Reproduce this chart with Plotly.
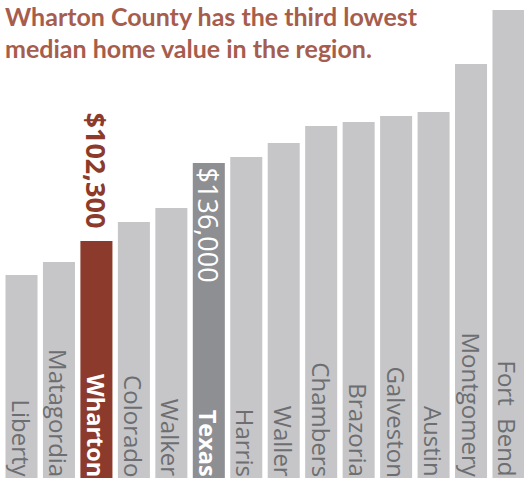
import plotly.graph_objects as go

categories = ["Liberty", "Matagordia", "Wharton", "Colorado", "Walker", "Texas", "Harris",
              "Waller", "Chambers", "Brazoria", "Galveston", "Austin", "Montgomery", "Fort  Bend"]
values = [87600, 93200, 102300, 110500, 116500, 136000, 138500,
          144600, 151900, 153600, 156200, 158000, 178700, 202000]
highlight = {"Wharton": "#8b3a2b", "Texas": "#8e8f92"}
base_color = "#c6c6c8"
title_lines = ["Wharton County has the third lowest", "median home value in the region."]

colors = [highlight.get(c, base_color) for c in categories]
xs = list(range(len(categories)))

fig = go.Figure(go.Bar(x=xs, y=values, marker_color=colors, marker_line_width=0,
                       hoverinfo="skip"))

LABEL_FONT = "Open Sans"
anns = []
for i, (c, v) in enumerate(zip(categories, values)):
    hl = c in highlight
    anns.append(dict(
        x=i, y=0, xref="x", yref="y", text=("<b>%s</b>" % c) if hl else c,
        textangle=90, showarrow=False, xanchor="center", yanchor="bottom", yshift=-1,
        font=dict(family=LABEL_FONT, size=24 if not hl else 23.5,
                  color="white" if hl else "#6d6e71"),
    ))

# value labels
wi = categories.index("Wharton")
anns.append(dict(x=wi, y=values[wi], xref="x", yref="y", text="<b>$102,300</b>",
                 textangle=90, showarrow=False, xanchor="center", yanchor="bottom", yshift=10,
                 font=dict(family=LABEL_FONT, size=27, color="#8b3a2b")))
ti = categories.index("Texas")
anns.append(dict(x=ti, y=values[ti], xref="x", yref="y", text="$136,000",
                 textangle=90, showarrow=False, xanchor="center", yanchor="top", yshift=-3,
                 font=dict(family=LABEL_FONT, size=27, color="white")))

for k, line in enumerate(title_lines):
    anns.append(dict(x=0, y=1, xref="paper", yref="paper", text="<b>%s</b>" % line,
                     showarrow=False, xanchor="left", yanchor="top", xshift=3, yshift=1 - 32 * k,
                     font=dict(family="Lato", size=25, color="#a65d4d")))

fig.update_layout(
    width=524, height=478,
    margin=dict(l=0, r=0, t=0, b=0),
    paper_bgcolor="white", plot_bgcolor="white",
    bargap=0.145,
    showlegend=False,
    xaxis=dict(range=[-0.574, 13.414], visible=False, fixedrange=True),
    yaxis=dict(range=[0, 206300], visible=False, fixedrange=True),
    annotations=anns,
)
fig.write_html("out.html", config={"displayModeBar": False},
               post_script="document.body.style.margin='0';document.body.style.overflow='hidden';")
